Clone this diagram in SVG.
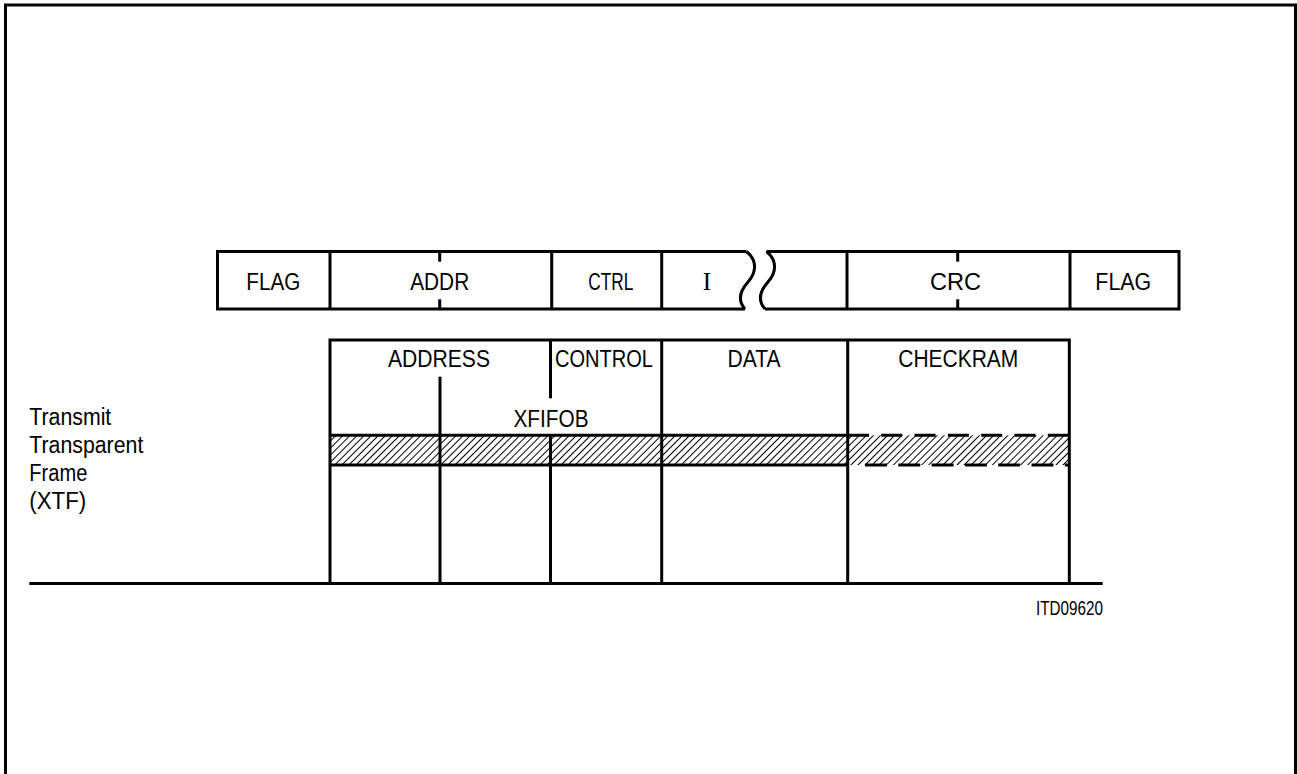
<svg xmlns="http://www.w3.org/2000/svg" width="1297" height="774" viewBox="0 0 1297 774">
<style>
.ln{stroke:#000;stroke-width:3;fill:none}
.t{font-family:"Liberation Sans",Arial,sans-serif;font-size:23px;fill:#000;text-anchor:middle}
.tl{font-family:"Liberation Sans",Arial,sans-serif;font-size:23px;fill:#000}
.ts{font-family:"Liberation Serif","Times New Roman",serif;font-size:25px;fill:#000;text-anchor:middle}
</style>
<defs>
<pattern id="hatch" patternUnits="userSpaceOnUse" width="5" height="5" patternTransform="rotate(45)">
<line x1="0.5" y1="0" x2="0.5" y2="5" stroke="#000" stroke-width="1"/>
</pattern>
</defs>
<rect width="1297" height="774" fill="#fff"/>
<g id="border"><path class="ln" d="M5.5,774 V5 H1295.5 V774"/></g>

<g id="top-frame">
<path class="ln" d="M746.5,251.5 H217.5 V309 H745"/>
<path class="ln" d="M766.5,251.5 H1179 V309 H765"/>
<path class="ln" d="M746.5,251.5 C757,260 757,272 748,282 C739,292 738,301 745,309"/>
<path class="ln" d="M766.5,251.5 C777,260 777,272 768,282 C759,292 758,301 765,309"/>
<line class="ln" x1="330" y1="251.5" x2="330" y2="309"/>
<line class="ln" x1="551.7" y1="251.5" x2="551.7" y2="309"/>
<line class="ln" x1="661.7" y1="251.5" x2="661.7" y2="309"/>
<line class="ln" x1="847" y1="251.5" x2="847" y2="309"/>
<line class="ln" x1="1070" y1="251.5" x2="1070" y2="309"/>
<line class="ln" x1="439.7" y1="251.5" x2="439.7" y2="261.7"/>
<line class="ln" x1="439.7" y1="299.3" x2="439.7" y2="309"/>
<line class="ln" x1="957.7" y1="251.5" x2="957.7" y2="261.7"/>
<line class="ln" x1="957.7" y1="299.3" x2="957.7" y2="309"/>
<text class="t" x="273.3" y="290" textLength="54" lengthAdjust="spacingAndGlyphs">FLAG</text>
<text class="t" x="439.7" y="290" textLength="59" lengthAdjust="spacingAndGlyphs">ADDR</text>
<text class="t" x="610.8" y="290" textLength="45" lengthAdjust="spacingAndGlyphs">CTRL</text>
<text class="ts" x="707" y="289.5">I</text>
<text class="t" x="955.5" y="290" textLength="51" lengthAdjust="spacingAndGlyphs">CRC</text>
<text class="t" x="1123.3" y="290" textLength="56" lengthAdjust="spacingAndGlyphs">FLAG</text>
</g>

<g id="xfifob">
<rect x="330" y="435.3" width="739.3" height="29.7" fill="url(#hatch)"/>
<path class="ln" d="M330,583.5 V340 H1069.3 V583.5"/>
<line class="ln" x1="440" y1="376.7" x2="440" y2="583.5"/>
<line class="ln" x1="550.5" y1="340" x2="550.5" y2="398.3"/>
<line class="ln" x1="550.5" y1="435.3" x2="550.5" y2="583.5"/>
<line class="ln" x1="661.7" y1="340" x2="661.7" y2="583.5"/>
<line class="ln" x1="847.7" y1="340" x2="847.7" y2="583.5"/>
<line class="ln" x1="330" y1="435.3" x2="847.7" y2="435.3"/>
<line class="ln" x1="330" y1="465" x2="847.7" y2="465"/>
<line class="ln" x1="848" y1="435.3" x2="1069.3" y2="435.3" stroke-dasharray="21 12.3"/>
<line class="ln" x1="865" y1="465" x2="1069.3" y2="465" stroke-dasharray="22 11.3"/>
<text class="t" x="439" y="366.7" textLength="102" lengthAdjust="spacingAndGlyphs">ADDRESS</text>
<text class="t" x="604" y="366.7" textLength="98" lengthAdjust="spacingAndGlyphs">CONTROL</text>
<text class="t" x="754" y="366.7" textLength="53" lengthAdjust="spacingAndGlyphs">DATA</text>
<text class="t" x="958.3" y="366.7" textLength="120" lengthAdjust="spacingAndGlyphs">CHECKRAM</text>
<text class="t" x="551" y="426.7" textLength="75" lengthAdjust="spacingAndGlyphs">XFIFOB</text>
</g>

<g id="xtf-label">
<text class="tl" x="29.3" y="425" textLength="82" lengthAdjust="spacingAndGlyphs">Transmit</text>
<text class="tl" x="29.3" y="453" textLength="114" lengthAdjust="spacingAndGlyphs">Transparent</text>
<text class="tl" x="29.3" y="481" textLength="58" lengthAdjust="spacingAndGlyphs">Frame</text>
<text class="tl" x="29.3" y="509" textLength="57" lengthAdjust="spacingAndGlyphs">(XTF)</text>
</g>

<g id="connectors">
<line class="ln" x1="29.3" y1="583.5" x2="1102.7" y2="583.5"/>
</g>

<g id="figure-id">
<text class="tl" x="1036" y="615" font-size="20" style="font-size:20px" textLength="67" lengthAdjust="spacingAndGlyphs">ITD09620</text>
</g>
</svg>
